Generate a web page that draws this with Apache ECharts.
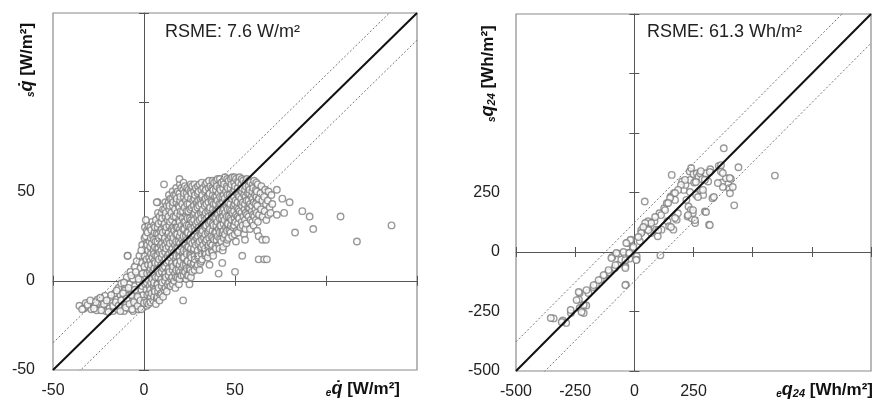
<!DOCTYPE html>
<html>
<head>
<meta charset="utf-8">
<script src="https://cdn.jsdelivr.net/npm/echarts@6/dist/echarts.min.js"></script>
<style>html,body{margin:0;padding:0;background:#fff;}#c{width:874px;height:403px;}</style>
</head>
<body>
<div id="c"></div>
<script>
// ---- data ----
const leftRange = [-50, 150];
const rightRange = [-500, 1000];
const leftXTickLabels = [-50, 0, 50];
const leftYTickLabels = [-50, 0, 50];
const rightXTickLabels = [-500, -250, 0, 250];
const rightYTickLabels = [-500, -250, 0, 250];
const leftRsme = 7.6;
const rightRsme = 61.3;

// hourly heat flux: [measured e q, simulated s q] (W/m2)
const hourlyPoints = [
[-35.5,-14],[-33,-15.5],[-32,-12.5],[-30.5,-14.5],[-29,-16],[-28.5,-12],[-27,-14],[-26,-16.5],[-25.5,-10.5],[-24.5,-13],[-23,-15],[-22.5,-11],[-21,-17],[-21.5,-8.5],[-20,-13.5],[-19,-15.5],[-18.5,-10],[-17.5,-12.5],[-17,-17],[-16,-7],[-16.5,-14.5],[-15,-10.5],[-14.5,-16],[-14,-4],[-13.5,-12.5],[-13,-8],[-12,-15],[-12.5,-1.5],[-11.5,-10],[-11,-17],[-10.5,-5.5],[-10,-13],[-9.5,2],[-9,-8.5],[-9,14],[-8.5,-15.5],[-8,-11],[-8,-2],[-7.5,5],[-7,-14],[-6.5,-6],[-6,-17],[-6,1],[-5.5,-10],[-5,8],[-5,-3],[-4.5,-13],[-4,11],[-4,-7],[-3.5,3],[-3,-16],[-3,-10],[-2.5,14],[-2.5,-1],[-2,7],[-2,-13],[-1.5,-5],[-1,20],[-1,10],[-0.5,-8],[-0.5,2],[-0.5,-15],
[-34,-16],[-31,-13.5],[-29.5,-11],[-27.5,-15.5],[-26.5,-12],[-24,-9.5],[-23.5,-16.5],[-22,-13],[-20.5,-11],[-19.5,-17.5],[-18,-8],[-17,-14],[-15.5,-12],[-15,-5.5],[-14,-14],[-13,-17],[-12.5,-11],[-11.5,-7],[-11,-1],[-10,-15],[-9.5,-10],[-8.5,-4],[-8,-13],[-7,-8],[-7,3],[-6.5,-16],[-5.5,-12],[-5,-5],[-4.5,5],[-3.5,-9],[-3.5,-14],[-3,1],[-2,-11],[-1.5,-16],[-1,-3],
[0.5,30],[0.3,24],[1,25],[0.8,18],[0.2,14],[1.2,10.5],[0.5,6],[1,2.5],[0.7,-2],[1.3,-5],[0.5,-11],[1.5,-14],
[-1.5,17],[-0.8,4],[0,-12.5],[1.5,21],[0.2,8],[1.8,-8],[1.5,28],[1.8,20],[1.4,12],[1.7,4],[1.5,-1],[1.6,-12],
[2.5,31],[2,27],[3,22],[2.3,17],[2.8,13],[2.2,9],[3.2,5],[2.5,0.5],[3,-3],[2.7,-7],[3.3,-10],[2.5,-13],
[3.5,30],[3.7,24],[3.4,19],[3.8,15],[3.5,11],[3.6,7],[3.5,3],[3.9,-1],[3.4,-5],[3.7,-9],[3.5,-12],
[4.5,33],[4,28.5],[5,25],[4.3,21],[5.2,17],[4.6,13],[4,9],[5,5.5],[4.5,1],[5.3,-3],[4.2,-7],[5,-11],
[5.5,31],[5.8,27],[5.4,23],[5.9,19],[5.5,15],[5.7,11],[5.6,7],[5.8,3],[5.5,-1],[5.7,-5],[5.5,-9],
[6.5,34],[6,30],[7,26.5],[6.3,22],[7.2,18],[6.6,14],[6.2,10],[7,6],[6.5,2],[7.3,-2],[6,-6],[7,-10],[6.5,-13],
[7.7,38],[7.5,30],[7.8,26],[7.4,22],[7.9,18],[7.5,14],[7.7,10],[7.6,6],[7.8,2],[7.5,-2],[7.7,-6],[7.4,-9],
[7.5,44],[8.5,36],[8,32],[9,28],[8.3,24],[9.2,20],[8.6,16],[8.2,12],[9,8],[8.5,4],[9.3,0],[8,-4],[9,-8],[8.5,-11],
[9.7,38],[9.5,33],[9.8,29],[9.4,25],[9.9,21],[9.5,17],[9.7,13],[9.6,9],[9.8,5],[9.5,1],[9.7,-3],[9.5,-7],
[11,54],[10.5,40],[10,35],[11,31],[10.3,27],[11.2,23],[10.6,19],[10.2,15],[11,11],[10.5,7],[11.3,3],[10,-1],[11,-5],[10.5,-9],
[11.7,44],[11.5,40],[11.8,36],[11.4,32],[11.9,28],[11.5,24],[11.7,20],[11.6,16],[11.8,12],[11.5,8],[11.7,4],[11.5,0],[11.8,-4],
[12.5,42],[12,38],[13,34],[12.3,30],[13.2,26],[12.6,22],[12.2,18],[13,14],[12.5,10],[13.3,6],[12,2],[13,-2],[12.5,-6],
[13.7,48],[13.5,44],[13.8,40],[13.4,36],[13.9,31],[13.5,27],[13.7,23],[13.6,19],[13.8,15],[13.5,11],[13.7,7],[13.5,3],[13.8,-1],
[14.5,46],[14,42],[15,38],[14.3,33],[15.2,29],[14.6,25],[14.2,21],[15,17],[14.5,13],[15.3,9],[14,5],[15,1],[14.5,-3],
[15.7,50],[15.5,46],[15.8,42],[15.4,34],[15.9,30],[15.5,26],[15.7,22],[15.6,18],[15.8,14],[15.5,10],[15.7,6],[15.5,2],[15.8,-2],
[16.5,48],[16,44],[17,40],[16.3,36],[17.2,32],[16.6,28],[16.2,24],[17,20],[16.5,16],[17.3,12],[16,8],[17,4],[16.5,0],[17.2,-4],
[17.7,52],[17.5,48],[17.8,44],[17.4,36],[17.9,30],[17.5,26],[17.7,22],[17.6,18],[17.8,14],[17.5,10],[17.7,6],[17.5,2],
[18.5,50],[18,46],[19,42],[18.3,38],[19.2,34],[18.6,30],[18.2,26],[19,22],[18.5,18],[19.3,14],[18,10],[19,6],[18.5,2],[19.2,-2],
[19.7,54],[19.5,49],[19.8,45],[19.4,41],[19.9,37],[19.5,33],[19.7,29],[19.6,25],[19.8,21],[19.5,17],[19.7,13],[19.5,9],[19.8,5],[19.5,1],
[19.5,57],[20.5,52],[20,47],[21,43],[20.3,39],[21.2,35],[20.6,31],[20.2,27],[21,23],[20.5,19],[21.3,15],[20,11],[21,7],[20.5,3],[21.5,-11],
[21.7,55],[21.5,51],[21.8,47],[21.4,39],[21.9,33],[21.5,29],[21.7,25],[21.6,21],[21.8,17],[21.5,13],[21.7,9],[21.5,5],[21.8,3],
[22.5,53],[22,49],[23,45],[22.3,41],[23.2,37],[22.6,33],[22.2,29],[23,25],[22.5,21],[23.3,17],[22,13],[23,9],[22.5,5],[23.2,1],
[23.7,52],[23.5,49],[23.8,43],[23.4,39],[23.9,35],[23.5,31],[23.7,27],[23.6,23],[23.8,19],[23.5,15],[23.7,11],[23.5,7],[23.8,3],
[24.5,51],[24,47],[25,43],[24.3,39],[25.2,35],[24.6,31],[24.2,27],[25,23],[24.5,19],[25.3,15],[24,11],[25,7],[24.5,3],[25,-2],
[25.7,54],[25.5,50],[25.8,46],[25.4,40],[25.9,34],[25.5,30],[25.7,26],[25.6,22],[25.8,18],[25.5,14],[25.7,10],[25.5,6],[25.8,2],
[26.5,53],[26,49],[27,45],[26.3,41],[27.2,37],[26.6,33],[26.2,29],[27,25],[26.5,21],[27.3,17],[26,13],[27,9],[26.5,5],
[27.7,54],[27.5,50],[27.8,46],[27.4,42],[27.9,38],[27.5,34],[27.7,30],[27.6,26],[27.8,22],[27.5,18],[27.7,14],[27.5,10],[27.8,6],
[28.5,52],[28,48],[29,44],[28.3,40],[29.2,36],[28.6,32],[28.2,28],[29,24],[28.5,20],[29.3,16],[28,12],[29,8],
[29.7,53],[29.5,49],[29.8,45],[29.4,41],[29.9,37],[29.5,33],[29.7,29],[29.6,25],[29.8,21],[29.5,17],[29.7,13],[29.5,9],
[30.5,54],[30,50],[31,46],[30.3,42],[31.2,38],[30.6,34],[30.2,30],[31,26],[30.5,22],[31.3,18],[30,14],[31,10],[30.5,6],
[31.7,55],[31.5,51],[31.8,47],[31.4,43],[31.9,39],[31.5,35],[31.7,31],[31.6,27],[31.8,23],[31.5,19],[31.7,15],[31.5,11],
[32.5,52],[32,48],[33,44],[32.3,40],[33.2,36],[32.6,32],[32.2,28],[33,24],[32.5,20],[33.3,16],[32,12],
[33.7,54],[33.5,50],[33.8,46],[33.4,42],[33.9,38],[33.5,34],[33.7,30],[33.6,26],[33.8,22],[33.5,18],[33.7,14],
[34.5,55],[34,51],[35,47],[34.3,43],[35.2,39],[34.6,35],[34.2,31],[35,27],[34.5,23],[35.3,19],[34,15],[35,13],[36,9],
[35.7,56],[35.5,52],[35.8,48],[35.4,44],[35.9,40],[35.5,36],[35.7,32],[35.6,28],[35.8,24],[35.5,20],[35.7,16],
[36.5,53],[36,49],[37,45],[36.3,41],[37.2,37],[36.6,33],[36.2,29],[37,25],[36.5,21],[37.3,17],
[37.7,56],[37.5,52],[37.8,48],[37.4,44],[37.9,40],[37.5,36],[37.7,32],[37.6,28],[37.8,24],[37.5,20],[37.7,16],
[38.5,55],[38,51],[39,47],[38.3,43],[39.2,39],[38.6,35],[38.2,31],[39,27],[38.5,23],[39.3,19],[38,14],
[39.7,56],[39.5,51],[39.8,47],[39.4,43],[39.9,39],[39.5,35],[39.7,31],[39.6,27],[39.8,23],[39.5,18],
[40.5,57],[40,53],[41,49],[40.3,45],[41.2,41],[40.6,37],[40.2,33],[41,29],[40.5,25],[41.3,20],[41,4],[43,10],
[41.7,57],[41.5,52],[41.8,47],[41.4,43],[41.9,39],[41.5,35],[41.7,31],[41.6,27],[41.8,23],[41.5,18],
[42.5,55],[42,51],[43,47],[42.3,43],[43.2,39],[42.6,35],[42.2,31],[43,27],[42.5,22],[43.3,17],
[43.7,56],[43.5,52],[43.8,48],[43.4,44],[43.9,40],[43.5,36],[43.7,32],[43.6,28],[43.8,24],[43.5,19],
[44.5,58],[44,54],[45,50],[44.3,46],[45.2,42],[44.6,38],[44.2,34],[45,30],[44.5,26],[45.3,21],
[45.7,57],[45.5,53],[45.8,48],[45.4,44],[45.9,40],[45.5,36],[45.7,32],[45.6,28],[45.8,23],
[46.5,56],[46,52],[47,48],[46.3,44],[47.2,40],[46.6,36],[46.2,32],[47,28],[46.5,24],
[47.7,57],[47.5,52],[47.8,47],[47.4,43],[47.9,39],[47.5,35],[47.7,31],[47.6,27],
[48.5,58],[48,54],[49,50],[48.3,46],[49.2,42],[48.6,38],[48.2,34],[49,30],[48.5,25],
[49.7,58],[49.5,55],[49.8,51],[49.4,47],[49.9,43],[49.5,39],[49.7,35],[49.6,31],[49.8,26],
[50.5,57],[50,53],[51,49],[50.3,45],[51.2,41],[50.6,37],[50.2,33],[51,28],[50.5,22],[50,5],
[51.7,56],[51.5,52],[51.8,48],[51.4,44],[51.9,40],[51.5,36],[51.7,32],[51.6,27],
[52.5,58],[52,55],[53,51],[52.3,47],[53.2,43],[52.6,39],[52.2,35],[53,30],
[53.7,57],[53.5,54],[53.8,50],[53.4,46],[53.9,42],[53.5,38],[53.7,33],
[54.5,56],[54,52],[55,48],[54.3,44],[55.2,40],[54.6,36],[54.2,31],[55,26],[55.5,23],[54,14],
[55.7,55],[55.5,51],[55.8,47],[55.4,43],[55.9,38],[55.5,34],[55.7,29],
[56.5,57],[56,53],[57,49],[56.3,45],[57.2,41],[56.6,37],[56.2,32],
[57.7,56],[57.5,53],[57.8,49],[57.4,45],[57.9,41],[57.5,36],
[58.5,55],[58,51],[59,47],[58.3,43],[59.2,39],[58.6,34],[58.2,29],
[59.7,54],[59.5,50],[59.8,46],[59.4,42],[59.9,37],[59.5,33],
[60.5,56],[60,52],[61,48],[60.3,44],[61.2,40],[60.6,36],[60.2,31],
[61.7,55],[61.5,51],[61.8,47],[61.4,43],[61.9,38],[61.5,34],
[62.5,54],[62,50],[63,46],[62.3,42],[63.2,37],[62.6,33],[62.2,28],[63,25],[63,12],
[64.5,53],[64,49],[65,45],[64.3,40],[65.2,36],[65,23],[66,12],
[66.5,51],[66,47],[67,43],[66.3,39],[67.2,34],[67,23],[67.5,12],
[68.5,50],[68,45],[69,41],[68.3,37],[70,48],[70.5,43],[69.5,38],
[73,51],[76,46],[80,44],[77,38],[73,37],[87,39],[91,36],[93,29],[83,27],[108,36],[117,22],[136,31],[7,44],[-9,14],[1,34]
];

// daily heat sums: [measured e q24, simulated s q24] (Wh/m2)
const dailyPoints = [
[-341,-279],[-302,-288],[-288,-298],[-268,-256],[-231,-172],[-234,-200],[-231,-235],[-214,-256],[-203,-225],[-194,-172],[-173,-147],[-162,-137],[-142,-116],[-124,-96],[-107,-85],[-93,-21],[-82,-67],[-66,-7],[-70,-53],[-55,-32],[-38,-60],[-36,-137],[-29,38],[-25,-4],[-21,-28],[-14,52],[-7,13],[10,-18],[10,-32],[23,45],[33,87],[44,212],[47,108],[58,129],[60,94],[71,80],[85,129],[92,94],[99,66],[110,-14],[106,163],[115,94],[126,184],[137,205],[140,129],[147,108],[154,233],[158,324],[165,94],[167,247],[172,219],[179,136],[184,163],[202,296],[209,261],[216,282],[220,219],[225,149],[229,191],[234,338],[236,303],[239,177],[243,142],[247,163],[250,328],[253,292],[257,122],[261,240],[264,331],[271,317],[278,331],[282,258],[287,306],[291,240],[298,170],[302,331],[312,296],[316,115],[321,348],[330,226],[357,362],[366,338],[371,292],[378,436],[387,310],[401,268],[404,247],[408,307],[422,196],[440,356],[594,321],
[240,353],[281,340],[319,336],[366,365],[374,332],[403,311],[416,273],[374,273],[353,290],[336,231],[303,168],[319,113],[248,176],[227,155],[256,134],[214,303],[197,282],[185,261],[172,248],[151,227],[143,206],[130,176],[113,155],
[88,147],[71,122],[46,122],[29,92],[59,92],[101,92],[172,143],[155,105],[269,231],[290,261],[298,303],[260,294],[235,252],
[38,105],[29,80],[17,63],[-17,50],[-34,38],[-4,21],[-46,0],[-21,-4],[8,-34],[-76,-4],[-97,-25],[-38,-34],[-80,-55],[-38,-67],[-109,-76],[-130,-97],[-151,-118],[-172,-139],[-202,-160],[-235,-168],[-244,-202],[-214,-223],[-223,-252],[-269,-244],[-353,-277],[-307,-294],[-38,-139]
];

// ---- chart ----
const FONT = 'Arial, "Liberation Sans", sans-serif';
const chart = echarts.init(document.getElementById('c'), null, {renderer: 'canvas'});

function diagLines(range, band) {
  const [a, b] = range;
  return {
    identity: [[a, a], [b, b]],
    upper: [[a, a + band], [b, b + band]],
    lower: [[a, a - band], [b, b - band]]
  };
}
const leftLines = diagLines(leftRange, 2 * leftRsme);
const rightLines = diagLines(rightRange, 2 * rightRsme);

function labelAxis(gridIndex, range, interval, labels, position, margin) {
  return {
    type: 'value', gridIndex, min: range[0], max: range[1], interval, position,
    axisLine: {show: false, onZero: false},
    axisTick: {show: false},
    splitLine: {show: false},
    axisLabel: {
      show: true, margin, color: '#222', fontSize: 16, fontFamily: FONT,
      showMinLabel: true, showMaxLabel: true,
      formatter: v => labels.indexOf(v) >= 0 ? String(v) : ''
    }
  };
}
function zeroAxis(gridIndex, range, interval, position, inside, zeroIdx, showLine) {
  return {
    type: 'value', gridIndex, min: range[0], max: range[1], interval, position,
    axisLine: {show: showLine, onZero: true, onZeroAxisIndex: zeroIdx, lineStyle: {color: '#555', width: 1}},
    axisTick: {show: true, inside, length: 5, lineStyle: {color: '#555', width: 1}},
    splitLine: {show: false},
    axisLabel: {show: false}
  };
}

const scatterStyle = {color: '#ffffff', borderColor: '#7f7f7f', borderWidth: 1.4};
function lineSeries(xi, yi, data, style) {
  return {type: 'line', xAxisIndex: xi, yAxisIndex: yi, data, symbol: 'none', clip: true,
    lineStyle: style, silent: true, animation: false, z: 5};
}

const subStyle = {fontSize: 10, fontWeight: 'bold', fontStyle: 'italic', fontFamily: FONT, fill: '#111', verticalAlign: 'bottom'};
const richTitle = {
  s: subStyle,
  q: {fontSize: 18, fontWeight: 'bold', fontStyle: 'italic', fontFamily: FONT, fill: '#111'},
  n: {fontSize: 11, fontWeight: 'bold', fontStyle: 'italic', fontFamily: FONT, fill: '#111', verticalAlign: 'bottom'},
  u: {fontSize: 17, fontWeight: 'bold', fontFamily: FONT, fill: '#111'}
};
function titleText(x, y, text, rotation, align) {
  return {type: 'text', x, y, rotation, silent: true, z: 10,
    style: {text, rich: richTitle, align, verticalAlign: 'middle', fill: '#111', font: 'bold 17px ' + FONT}};
}

chart.setOption({
  animation: false,
  backgroundColor: '#ffffff',
  grid: [
    {left: 53, top: 13, width: 364, height: 357, show: true, borderColor: '#8a8a8a', borderWidth: 1.2, backgroundColor: 'transparent'},
    {left: 516, top: 14, width: 360, height: 357, show: true, borderColor: '#8a8a8a', borderWidth: 1.2, backgroundColor: 'transparent'}
  ],
  xAxis: [
    labelAxis(0, leftRange, 50, leftXTickLabels, 'bottom', 13),
    zeroAxis(0, leftRange, 50, 'bottom', false, 0, true),
    zeroAxis(0, leftRange, 50, 'bottom', true, 0, false),
    labelAxis(1, rightRange, 250, rightXTickLabels, 'bottom', 13),
    zeroAxis(1, rightRange, 250, 'bottom', false, 3, true),
    zeroAxis(1, rightRange, 250, 'bottom', true, 3, false)
  ],
  yAxis: [
    labelAxis(0, leftRange, 50, leftYTickLabels, 'left', 18),
    zeroAxis(0, leftRange, 50, 'left', false, 0, true),
    zeroAxis(0, leftRange, 50, 'left', true, 0, false),
    labelAxis(1, rightRange, 250, rightYTickLabels, 'left', 16),
    zeroAxis(1, rightRange, 250, 'left', false, 3, true),
    zeroAxis(1, rightRange, 250, 'left', true, 3, false)
  ],
  series: [
    {type: 'scatter', xAxisIndex: 0, yAxisIndex: 0, data: hourlyPoints, symbol: 'circle', symbolSize: 6.5, itemStyle: scatterStyle, z: 3, large: false},
    lineSeries(0, 0, leftLines.upper, {color: '#777', width: 1, type: [2, 2]}),
    lineSeries(0, 0, leftLines.lower, {color: '#777', width: 1, type: [2, 2]}),
    lineSeries(0, 0, leftLines.identity, {color: '#111', width: 2}),
    {type: 'scatter', xAxisIndex: 3, yAxisIndex: 3, data: dailyPoints, symbol: 'circle', symbolSize: 6.5, itemStyle: scatterStyle, z: 3},
    lineSeries(3, 3, rightLines.upper, {color: '#777', width: 1, type: [2, 2]}),
    lineSeries(3, 3, rightLines.lower, {color: '#777', width: 1, type: [2, 2]}),
    lineSeries(3, 3, rightLines.identity, {color: '#111', width: 2})
  ],
  graphic: [
    {type: 'text', x: 165, y: 32, silent: true, style: {text: 'RSME: ' + leftRsme + ' W/m²', fill: '#222', font: '18px ' + FONT, verticalAlign: 'middle'}},
    {type: 'text', x: 647, y: 32, silent: true, style: {text: 'RSME: ' + rightRsme + ' Wh/m²', fill: '#222', font: '18px ' + FONT, verticalAlign: 'middle'}},
    titleText(400, 389, '{s|e}{q|q̇} {u|[W/m²]}', 0, 'right'),
    titleText(873, 390, '{s|e}{q|q}{n|24} {u|[Wh/m²]}', 0, 'right'),
    titleText(27, 97, '{s|s}{q|q̇} {u|[W/m²]}', Math.PI / 2, 'left'),
    titleText(488, 122, '{s|s}{q|q}{n|24} {u|[Wh/m²]}', Math.PI / 2, 'left')
  ]
});
</script>
</body>
</html>
